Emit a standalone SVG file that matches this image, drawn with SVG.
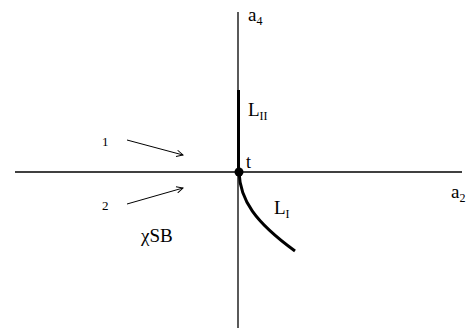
<svg xmlns="http://www.w3.org/2000/svg" width="474" height="331" viewBox="0 0 474 331">
<defs>
<style>
.ax{stroke:#000;stroke-width:1.3;fill:none}
.thick{stroke:#000;stroke-width:3;fill:none}
.arr{stroke:#000;stroke-width:1;fill:none}
</style>
<marker id="ah" viewBox="0 0 10 10" refX="9" refY="5" markerWidth="8" markerHeight="8" orient="auto" markerUnits="userSpaceOnUse">
<path d="M1,1 L9,5 L1,9" fill="none" stroke="#000" stroke-width="1.2"/>
</marker>
</defs>
<rect width="474" height="331" fill="#fff"/>
<g id="connectors">
<line class="ax" x1="15" y1="172" x2="462" y2="172"/>
<line class="ax" x1="238" y1="12" x2="238" y2="328"/>
<line class="thick" x1="238.5" y1="90" x2="238.5" y2="172"/>
<path class="thick" d="M239,172 C240,200 255,222 295,251"/>
<line class="arr" x1="127" y1="140" x2="183" y2="155" marker-end="url(#ah)"/>
<line class="arr" x1="127" y1="204" x2="183" y2="188" marker-end="url(#ah)"/>
</g>
<g font-family="'Liberation Serif','DejaVu Serif','Times New Roman',serif" fill="#000">
<g id="node-t">
<circle cx="239" cy="172" r="4.5" fill="#000"/>
<text font-size="18" x="246" y="168">t</text>
</g>
<g id="node-a4"><text font-size="19" x="248" y="21">a<tspan font-size="12" dy="4">4</tspan></text></g>
<g id="node-a2"><text font-size="19" x="451" y="198">a<tspan font-size="12" dy="4">2</tspan></text></g>
<g id="node-LII"><text font-size="19" x="248" y="116">L<tspan font-size="12" dy="4">II</tspan></text></g>
<g id="node-LI"><text font-size="19" x="274" y="214">L<tspan font-size="12" dy="4">I</tspan></text></g>
<g id="node-1"><text font-size="13" x="102" y="146">1</text></g>
<g id="node-2"><text font-size="13" x="102" y="210">2</text></g>
<g id="node-chiSB"><text font-size="19" x="141" y="242">χSB</text></g>
</g>
</svg>
